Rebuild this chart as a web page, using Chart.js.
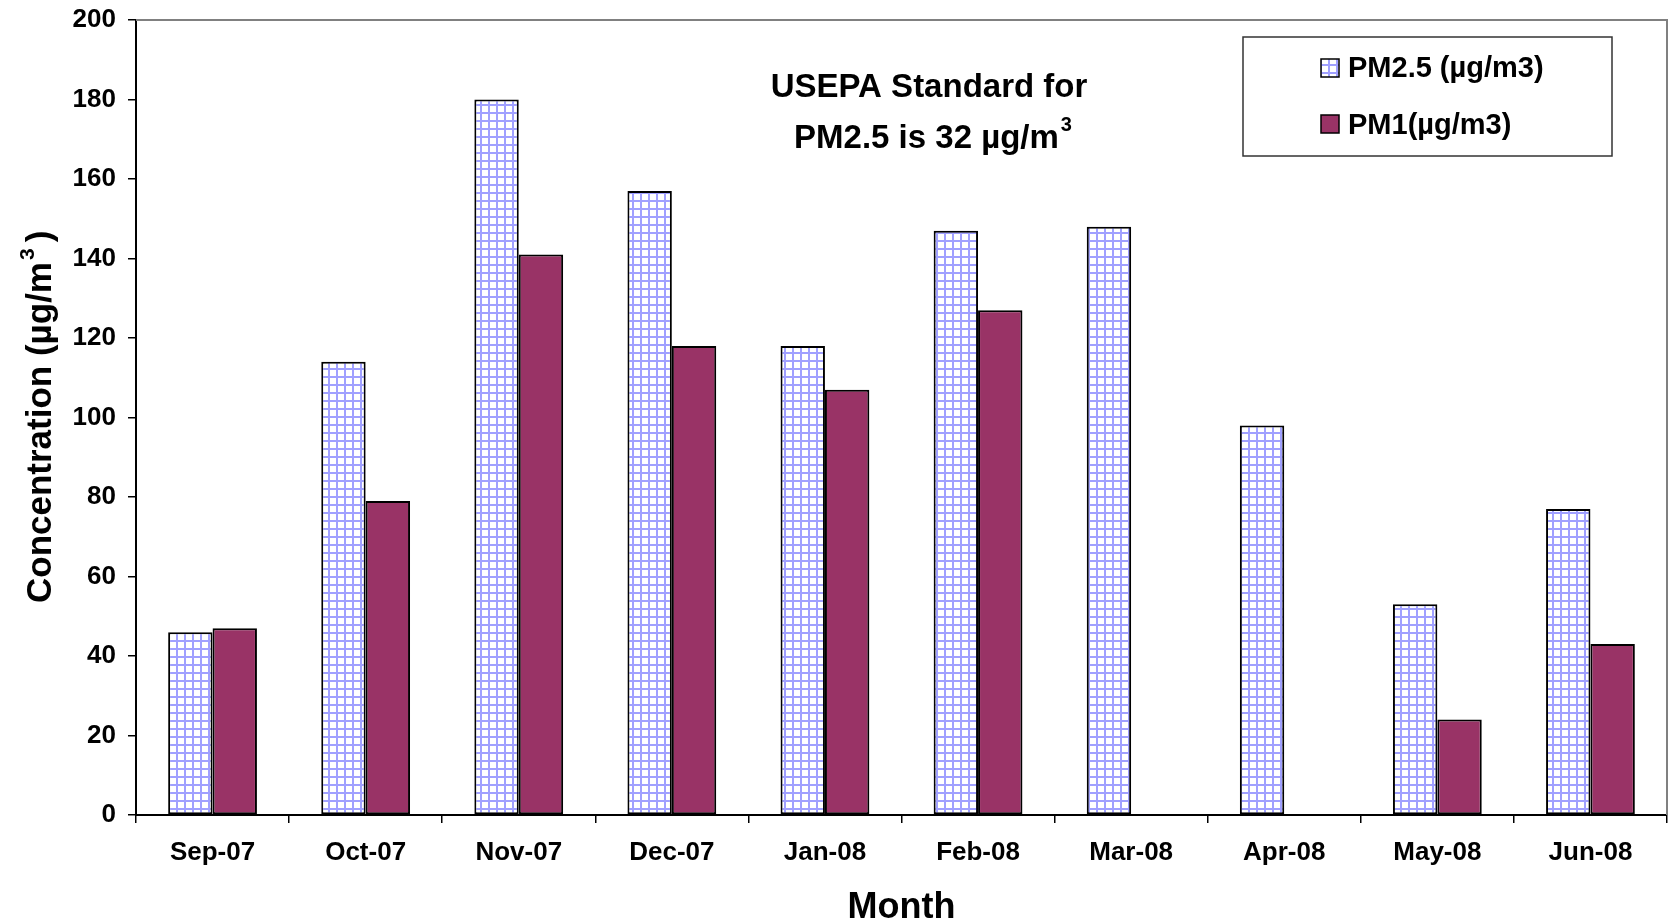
<!DOCTYPE html>
<html>
<head>
<meta charset="utf-8">
<script src="https://cdn.jsdelivr.net/npm/chart.js@4/dist/chart.umd.min.js"></script>
<style>
  html, body { margin: 0; padding: 0; background: #ffffff; }
  #wrap { width: 1675px; height: 922px; }
</style>
</head>
<body>
<div id="wrap"><canvas id="chart" width="1675" height="922"></canvas></div>
<script>
// Monthly mean particulate concentrations
const months = ['Sep-07', 'Oct-07', 'Nov-07', 'Dec-07', 'Jan-08', 'Feb-08', 'Mar-08', 'Apr-08', 'May-08', 'Jun-08'];
const pm25 = [46, 114, 180, 157, 118, 147, 148, 98, 53, 77];
const pm1 = [47, 79, 141, 118, 107, 127, null, null, 24, 43];
const seriesNames = ['PM2.5 (µg/m3)', 'PM1(µg/m3)'];
const yTicks = [0, 20, 40, 60, 80, 100, 120, 140, 160, 180, 200];

const FONT = '"Liberation Sans", Arial, Helvetica, sans-serif';
const PM1_COLOR = '#993366';

// light blue grid fill used for the PM2.5 bars
function makeGridPattern() {
  const c = document.createElement('canvas');
  c.width = 8; c.height = 8;
  const g = c.getContext('2d');
  g.fillStyle = '#ffffff';
  g.fillRect(0, 0, 8, 8);
  g.fillStyle = '#a0a0ff';
  g.fillRect(0, 0, 8, 2);
  g.fillRect(0, 0, 2, 8);
  return g.createPattern(c, 'repeat');
}
const gridFill = makeGridPattern();

// frame, legend, note and axis titles
const decorations = {
  id: 'decorations',
  afterDraw(chart) {
    const ctx = chart.ctx;
    const a = chart.chartArea;
    ctx.save();

    // grey frame on the top and right sides of the plot
    ctx.strokeStyle = '#808080';
    ctx.lineWidth = 2;
    ctx.beginPath();
    ctx.moveTo(a.left, a.top);
    ctx.lineTo(a.right, a.top);
    ctx.lineTo(a.right, a.bottom);
    ctx.stroke();

    // legend box
    ctx.strokeStyle = '#333333';
    ctx.lineWidth = 1.5;
    ctx.fillStyle = '#ffffff';
    ctx.fillRect(1243, 37, 369, 119);
    ctx.strokeRect(1243, 37, 369, 119);
    const swatches = [gridFill, PM1_COLOR];
    const rows = [{ y: 59, base: 77 }, { y: 115, base: 134 }];
    ctx.font = 'bold 29px ' + FONT;
    ctx.textAlign = 'left';
    ctx.textBaseline = 'alphabetic';
    rows.forEach((r, i) => {
      ctx.fillStyle = swatches[i];
      ctx.fillRect(1321, r.y, 18, 18);
      ctx.strokeStyle = '#000000';
      ctx.lineWidth = 1.5;
      ctx.strokeRect(1321, r.y, 18, 18);
      ctx.fillStyle = '#000000';
      ctx.fillText(chart.data.datasets[i].label, 1348, r.base);
    });

    // note on the standard
    ctx.fillStyle = '#000000';
    ctx.font = 'bold 33px ' + FONT;
    ctx.textAlign = 'center';
    ctx.fillText('USEPA Standard for', 929, 97);
    const line2 = 'PM2.5 is 32 µg/m';
    ctx.textAlign = 'left';
    const w2 = ctx.measureText(line2).width;
    ctx.font = 'bold 20px ' + FONT;
    const wSup = ctx.measureText('3').width;
    const x2 = 933 - (w2 + wSup + 2) / 2;
    ctx.font = 'bold 33px ' + FONT;
    ctx.fillText(line2, x2, 148);
    ctx.font = 'bold 20px ' + FONT;
    ctx.fillText('3', x2 + w2 + 2, 131);

    // y axis title
    ctx.save();
    ctx.translate(51, 603);
    ctx.rotate(-Math.PI / 2);
    ctx.font = 'bold 35px ' + FONT;
    ctx.textAlign = 'left';
    const t1 = 'Concentration (µg/m';
    ctx.fillText(t1, 0, 0);
    const wt1 = ctx.measureText(t1).width;
    ctx.font = 'bold 21px ' + FONT;
    ctx.fillText('3', wt1 + 2, -17);
    const ws = ctx.measureText('3').width;
    ctx.font = 'bold 35px ' + FONT;
    ctx.fillText(')', wt1 + ws + 8, 0);
    ctx.restore();

    // x axis title
    ctx.font = 'bold 36px ' + FONT;
    ctx.textAlign = 'center';
    ctx.fillText('Month', (a.left + a.right) / 2, 918);

    ctx.restore();
  }
};

new Chart(document.getElementById('chart'), {
  type: 'bar',
  data: {
    labels: months,
    datasets: [
      {
        label: seriesNames[0],
        data: pm25,
        backgroundColor: gridFill,
        borderColor: '#000000',
        borderWidth: 2,
        borderSkipped: false
      },
      {
        label: seriesNames[1],
        data: pm1,
        backgroundColor: PM1_COLOR,
        borderColor: '#000000',
        borderWidth: 2,
        borderSkipped: false
      }
    ]
  },
  options: {
    responsive: false,
    animation: false,
    layout: { padding: { top: 20, right: 8, left: 0, bottom: 0 } },
    datasets: { bar: { categoryPercentage: 0.58, barPercentage: 1.0 } },
    plugins: {
      legend: { display: false },
      tooltip: { enabled: false },
      title: { display: false }
    },
    scales: {
      x: {
        grid: { display: true, drawOnChartArea: false, offset: true, tickLength: 8, color: '#000000', lineWidth: 1.5 },
        border: { display: true, color: '#000000', width: 2 },
        ticks: { color: '#000000', font: { family: FONT, size: 26, weight: 'bold' }, padding: 14, maxRotation: 0, autoSkip: false },
        afterFit(scale) { scale.height = 107; }
      },
      y: {
        min: 0,
        max: 200,
        afterBuildTicks(scale) { scale.ticks = yTicks.map(v => ({ value: v })); },
        grid: { display: true, drawOnChartArea: false, tickLength: 8, color: '#000000', lineWidth: 1.5 },
        border: { display: true, color: '#000000', width: 2 },
        ticks: { color: '#000000', font: { family: FONT, size: 26, weight: 'bold' }, padding: 12 },
        afterFit(scale) {
          scale.width = 136;
          scale.paddingTop = 0;
          scale.paddingBottom = 0;
        }
      }
    }
  },
  plugins: [decorations]
});
</script>
</body>
</html>
